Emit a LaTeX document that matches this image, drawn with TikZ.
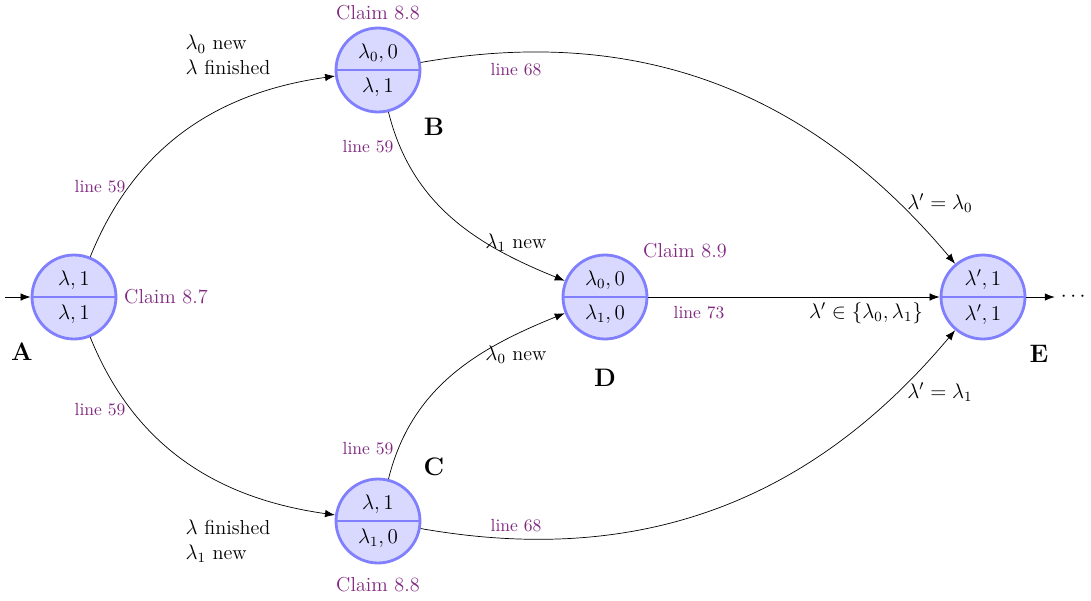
\documentclass[tikz,border=0pt]{standalone}
\usepackage{amsmath}
\usetikzlibrary{shapes.multipart,arrows.meta}
\definecolor{claimcol}{RGB}{128,40,128}
\newcommand{\lnew}[1]{$\lambda_{#1}$ new}

\begin{document}
\begin{tikzpicture}[x=0.02cm,y=0.02cm,>={Latex[length=2mm,width=1.5mm]},
    font=\fontsize{11.5}{14}\selectfont,
    ustate/.style={circle split,draw=blue!50,fill=blue!15,line width=1.6pt,
      minimum size=1.68cm,inner sep=3.5pt},
    claim/.style={text=claimcol},
    lineno/.style={text=claimcol,font=\normalsize},
    tag/.style={font=\Large\bfseries}]
  \useasboundingbox (0,0) rectangle (1091,600);

  \node[ustate] (A) at (74,303) {$\lambda,1$ \nodepart{lower} $\lambda,1$};
  \node[ustate] (B) at (378,530) {$\lambda_0,0$ \nodepart{lower} $\lambda,1$};
  \node[ustate] (C) at (378,79) {$\lambda,1$ \nodepart{lower} $\lambda_1,0$};
  \node[ustate] (D) at (605,303) {$\lambda_0,0$ \nodepart{lower} $\lambda_1,0$};
  \node[ustate] (E) at (983,303) {$\lambda',1$ \nodepart{lower} $\lambda',1$};

  \node[tag] (tA) at (22,248) {A};
  \node[tag] (tB) at (434,473) {B};
  \node[tag] (tC) at (434,133) {C};
  \node[tag] (tD) at (605,222) {D};
  \node[tag] (tE) at (1039,246) {E};

  \node[claim] (cA) at (166,303) {Claim 8.7};
  \node[claim] (cB) at (378,587) {Claim 8.8};
  \node[claim] (cC) at (378,15) {Claim 8.8};
  \node[claim] (cD) at (685,349) {Claim 8.9};

  \coordinate (in) at (5,303);
  \node (dots) at (1075,303) {$\cdots$};

  \draw[->] (in) -- (A);
  \draw[->] (A) to[out=68,in=188] (B);
  \draw[->] (A) to[out=-68,in=172] (C);
  \draw[->] (B) to[out=-76,in=158] (D);
  \draw[->] (C) to[out=76,in=202] (D);
  \draw[->] (B) to[out=10,in=130] (E);
  \draw[->] (C) to[out=-10,in=230] (E);
  \draw[->] (D) -- (E);
  \draw[->] (E) -- (dots);

  \node[lineno] (lAB) at (100,413) {line 59};
  \node[lineno] (lAC) at (100,190) {line 59};
  \node[lineno] (lBD) at (368,453) {line 59};
  \node[lineno] (lCD) at (368,151) {line 59};
  \node[lineno] (lBE) at (516,530) {line 68};
  \node[lineno] (lCE) at (516,74) {line 68};
  \node[lineno] (lDE) at (699,287) {line 73};

  \node[align=left] (eAB) at (228,545) {\lnew{0}\\$\lambda$ finished};
  \node[align=left] (eAC) at (228,59) {$\lambda$ finished\\\lnew{1}};
  \node (eBD) at (516,357) {\lnew{1}};
  \node (eCD) at (516,245) {\lnew{0}};
  \node (eBE) at (940,397) {$\lambda'=\lambda_0$};
  \node (eCE) at (940,208) {$\lambda'=\lambda_1$};
  \node (eDE) at (866,287) {$\lambda'\in\{\lambda_0,\lambda_1\}$};
\end{tikzpicture}
\end{document}
